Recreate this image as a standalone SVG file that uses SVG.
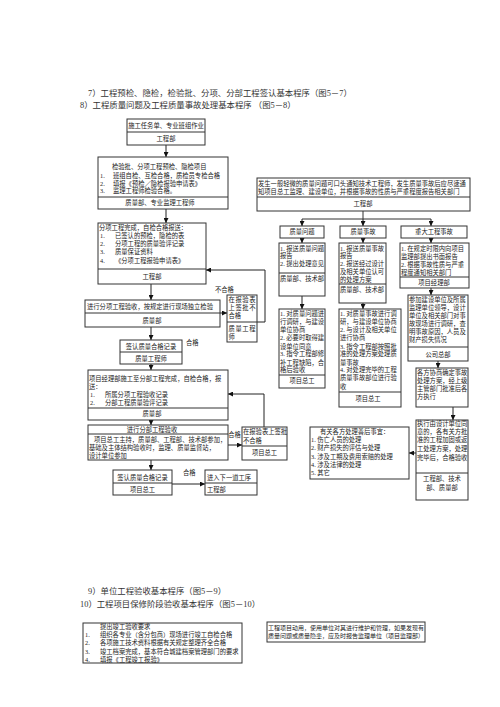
<svg xmlns="http://www.w3.org/2000/svg" width="500" height="707" viewBox="0 0 500 707">
<defs>
<marker id="ah" markerWidth="5" markerHeight="5" refX="5" refY="2.5" orient="auto" markerUnits="userSpaceOnUse">
<path d="M0,0 L5,2.5 L0,5 Z" fill="#111"/>
</marker>
<style>
.b{fill:#fff;stroke:#333;stroke-width:1}
.d{stroke:#333;stroke-width:1;fill:none}
.c{stroke:#222;stroke-width:1;fill:none;marker-end:url(#ah)}
text{font-family:"Liberation Serif","Noto Sans CJK SC",serif;fill:#222}
.t{font-size:6.3px}
.m{text-anchor:middle}
.h{font-size:8.4px;fill:#333}
.s{font-size:6px}
</style>
</defs>
<rect width="500" height="707" fill="#fff"/>

<g id="headings">
<text class="h" x="88" y="96">7）工程预检、隐检，检验批、分项、分部工程签认基本程序（图5－7）</text>
<text class="h" x="80" y="108">8）工程质量问题及工程质量事故处理基本程序  （图5－8）</text>
<text class="h" x="88" y="594">9）单位工程验收基本程序（图5－9）</text>
<text class="h" x="80" y="607">10）工程项目保修阶段验收基本程序（图5－10）</text>
</g>

<g id="connectors">
<path class="c" d="M166,145 V157"/>
<path class="c" d="M166,209 V223"/>
<path class="c" d="M151,284 V300"/>
<path class="c" d="M220,313 H227"/>
<path class="c" d="M257,322 H265 V270 H206"/>
<path class="c" d="M151,327 V340"/>
<path class="c" d="M151,364 V370"/>
<path class="c" d="M264,427 V394 H228"/>
<path class="c" d="M151,420 V425"/>
<path class="c" d="M228,445 H242"/>
<path class="c" d="M151,460 V470"/>
<path class="c" d="M172,484 H205"/>
<path class="d" d="M363,211 V219 M302,219 H431"/>
<path class="c" d="M302,219 V226"/>
<path class="c" d="M363,219 V226"/>
<path class="c" d="M431,219 V226"/>
<path class="c" d="M302,238 V243"/>
<path class="c" d="M363,238 V243"/>
<path class="c" d="M431,238 V243"/>
<path class="c" d="M302,296 V309"/>
<path class="c" d="M363,303 V309"/>
<path class="c" d="M431,288 V295"/>
<path class="c" d="M438,361 V368"/>
<path class="c" d="M453,407 V420"/>
<path class="c" d="M416,453 H409"/>
</g>

<g id="labels">
<text class="t" x="215" y="292">不合格</text>
<text class="t" x="186" y="345">合格</text>
<text class="t" x="222" y="437">不合格</text>
<text class="t" x="183" y="475">合格</text>
</g>

<g id="n1">
<rect class="b" x="127" y="119" width="78" height="26"/>
<path class="d" d="M127,132 H205"/>
<text class="t m" x="166" y="128">施工任务单、专业班组作业</text>
<text class="t m" x="166" y="141">工程部</text>
</g>

<g id="n2">
<rect class="b" x="98" y="157" width="130" height="52"/>
<path class="d" d="M98,197 H228"/>
<text class="t" x="112" y="169">检验批、分项工程预检、隐检项目</text>
<text class="t" x="100" y="178">1.</text><text class="t" x="113" y="178">班组自检、互检合格，质检员专检合格</text>
<text class="t" x="100" y="186">2.</text><text class="t" x="113" y="186">填报《预检／隐检报验申请表》</text>
<text class="t" x="100" y="193">3.</text><text class="t" x="113" y="193">监理工程师检验合格。</text>
<text class="t m" x="160" y="205">质量部、专业监理工程师</text>
</g>

<g id="n3">
<rect class="b" x="98" y="223" width="108" height="61"/>
<path class="d" d="M98,269 H206"/>
<text class="t" x="99" y="230">分项工程完成，自检合格报送：</text>
<text class="t" x="100" y="238">1.</text><text class="t" x="115" y="238">已签认的预检，隐检的表</text>
<text class="t" x="100" y="246">2.</text><text class="t" x="115" y="246">分项工程的质量验评记录</text>
<text class="t" x="100" y="254">3.</text><text class="t" x="115" y="254">质量保证资料</text>
<text class="t" x="100" y="263">4.</text><text class="t" x="115" y="263">《分项工程报验申请表》</text>
<text class="t m" x="152" y="279">工程部</text>
</g>

<g id="n4">
<rect class="b" x="85" y="300" width="135" height="27"/>
<path class="d" d="M85,313 H220"/>
<text class="t" x="87" y="309">进行分项工程验收，按规定进行现场独立检验</text>
<text class="t m" x="152" y="323">质量部</text>
</g>

<g id="n5">
<rect class="b" x="227" y="295" width="30" height="47"/>
<path class="d" d="M227,322 H257"/>
<text class="t" x="228.5" y="302" textLength="27" lengthAdjust="spacing">在报验表</text>
<text class="t" x="228.5" y="310" textLength="27" lengthAdjust="spacing">上签批不</text>
<text class="t" x="228.5" y="318">合格</text>
<text class="t" x="228.5" y="331" textLength="27" lengthAdjust="spacing">质量工程</text>
<text class="t" x="228.5" y="339">师</text>
</g>

<g id="n6">
<rect class="b" x="120" y="340" width="62" height="24"/>
<path class="d" d="M120,352 H182"/>
<text class="t m" x="151" y="349">签认质量合格记录</text>
<text class="t m" x="151" y="361">质量工程师</text>
</g>

<g id="n7">
<rect class="b" x="88" y="370" width="140" height="50"/>
<path class="d" d="M88,408 H228"/>
<text class="t" x="89" y="381">项目经理部施工至分部工程完成，自检合格，报</text>
<text class="t" x="89" y="389">送：</text>
<text class="t" x="90" y="397">1.</text><text class="t" x="105" y="397">所属分项工程验收记录</text>
<text class="t" x="90" y="405">2.</text><text class="t" x="105" y="405">分部工程质量验评记录</text>
<text class="t m" x="152" y="416">质量部</text>
</g>

<g id="n8">
<rect class="b" x="88" y="425" width="140" height="35"/>
<path class="d" d="M88,434 H228"/>
<text class="t m" x="152" y="432">进行分部工程验收</text>
<text class="t" x="94" y="442">项目总工主持，质量部、工程部、技术部参加，</text>
<text class="t" x="89" y="450">基础及主体结构验收时，监理、质量监督站，</text>
<text class="t" x="89" y="458">设计单位参加</text>
</g>

<g id="n9">
<rect class="b" x="242" y="427" width="45" height="33"/>
<path class="d" d="M242,446 H287"/>
<text class="t" x="243" y="434">在报验表上签批</text>
<text class="t" x="243" y="443">不合格</text>
<text class="t m" x="264.5" y="455">项目总工</text>
</g>

<g id="n10">
<rect class="b" x="113" y="470" width="59" height="25"/>
<path class="d" d="M113,483 H172"/>
<text class="t m" x="142.5" y="480">签认质量合格记录</text>
<text class="t m" x="142.5" y="492">项目总工</text>
</g>

<g id="n11">
<rect class="b" x="205" y="470" width="52" height="25"/>
<path class="d" d="M205,483 H257"/>
<text class="t" x="207" y="480">进入下一道工序</text>
<text class="t" x="207" y="492">工程部</text>
</g>

<g id="r1">
<rect class="b" x="257" y="178" width="213" height="33"/>
<path class="d" d="M257,197 H470"/>
<text class="t" x="258" y="186">发生一般轻微的质量问题可口头通知技术工程师，发生质量事故后应尽速通</text>
<text class="t" x="258" y="194">知项目总工监理、建设单位，并根据事故的性质与严重程度报告相关部门</text>
<text class="t m" x="363" y="206">工程部</text>
</g>

<g id="r2a">
<rect class="b" x="280" y="226" width="44" height="12"/>
<text class="t m" x="302" y="234">质量问题</text>
</g>
<g id="r2b">
<rect class="b" x="340" y="226" width="46" height="12"/>
<text class="t m" x="363" y="234">质量事故</text>
</g>
<g id="r2c">
<rect class="b" x="401" y="226" width="66" height="12"/>
<text class="t m" x="434" y="234">重大工程事故</text>
</g>

<g id="r3a">
<rect class="b" x="279" y="243" width="46" height="53"/>
<path class="d" d="M279,273 H325"/>
<text class="t" x="280" y="251">1. 报送质量问题</text>
<text class="t" x="280" y="258">报告</text>
<text class="t" x="280" y="266">2. 提出处理意见</text>
<text class="t" x="280" y="281">质量部、技术部</text>
</g>

<g id="r3b">
<rect class="b" x="339" y="243" width="47" height="60"/>
<path class="d" d="M339,284 H386"/>
<text class="t" x="340" y="251">1. 报送质量事故</text>
<text class="t" x="340" y="258">报告</text>
<text class="t" x="340" y="266">2. 报送经过设计</text>
<text class="t" x="340" y="274">及相关单位认可</text>
<text class="t" x="340" y="282">的处理方案</text>
<text class="t" x="340" y="292">质量部、技术部</text>
</g>

<g id="r3c">
<rect class="b" x="400" y="243" width="69" height="45"/>
<path class="d" d="M400,277 H469"/>
<text class="t" x="401" y="251">1. 在规定时限内向项目</text>
<text class="t" x="401" y="259">监理部提出书面报告</text>
<text class="t" x="401" y="267">2. 根据事故性质与严重</text>
<text class="t" x="401" y="275">程度通知相关部门</text>
<text class="t m" x="434" y="285">项目经理部</text>
</g>

<g id="r4a">
<rect class="b" x="279" y="309" width="46" height="79"/>
<path class="d" d="M279,375 H325"/>
<text class="t" x="280" y="316">1. 对质量问题进</text>
<text class="t" x="280" y="324">行调研，与建设</text>
<text class="t" x="280" y="332">单位协商</text>
<text class="t" x="280" y="340">2. 必要时取得建</text>
<text class="t" x="280" y="349">设单位同意</text>
<text class="t" x="280" y="356">3. 指令工程部修</text>
<text class="t" x="280" y="365">补工程缺陷，合</text>
<text class="t" x="280" y="372">格后验收</text>
<text class="t m" x="302" y="383">项目总工</text>
</g>

<g id="r4b">
<rect class="b" x="339" y="309" width="62" height="98"/>
<path class="d" d="M339,392 H401"/>
<text class="t" x="340" y="316">1. 对质量事故进行调</text>
<text class="t" x="340" y="324">研，与建设单位协商</text>
<text class="t" x="340" y="332">2. 与设计及相关单位</text>
<text class="t" x="340" y="340">进行协商</text>
<text class="t" x="340" y="349">3. 指令工程部按照批</text>
<text class="t" x="340" y="356">准的处理方案处理质</text>
<text class="t" x="340" y="365">量事故</text>
<text class="t" x="340" y="372">4. 对处理完毕的工程</text>
<text class="t" x="340" y="380">质量事故部位进行验</text>
<text class="t" x="340" y="389">收</text>
<text class="t m" x="368" y="401">项目总工</text>
</g>

<g id="r4c">
<rect class="b" x="408" y="295" width="60" height="66"/>
<path class="d" d="M408,347 H468"/>
<text class="t" x="409" y="302">参加建设单位及所属</text>
<text class="t" x="409" y="310">监理单位领导，设计</text>
<text class="t" x="409" y="318">单位及相关部门对事</text>
<text class="t" x="409" y="326">故现场进行调研，查</text>
<text class="t" x="409" y="334">明事故原因，人员及</text>
<text class="t" x="409" y="342">财产损失情况</text>
<text class="t m" x="438" y="357">公司总部</text>
</g>

<g id="r5c">
<rect class="b" x="416" y="368" width="52" height="39"/>
<text class="t" x="417" y="375">各方协商确定事故</text>
<text class="t" x="417" y="383">处理方案，经上级</text>
<text class="t" x="417" y="391">主管部门批准后各</text>
<text class="t" x="417" y="399">方执行</text>
</g>

<g id="r6c">
<rect class="b" x="416" y="420" width="52" height="80"/>
<path class="d" d="M416,473 H468"/>
<text class="t" x="417" y="426">执行由设计单位同</text>
<text class="t" x="417" y="434">意的，各有关方批</text>
<text class="t" x="417" y="442">准的工程加固或返</text>
<text class="t" x="417" y="451">工处理方案，处理</text>
<text class="t" x="417" y="460">完毕后，合格验收</text>
<text class="t m" x="442" y="481">工程部、技术</text>
<text class="t m" x="442" y="490">部、质量部</text>
</g>

<g id="r7">
<rect class="b" x="310" y="427" width="99" height="52"/>
<text class="t" x="320" y="434">有关各方处理善后事宜：</text>
<text class="t" x="311" y="442">1. 伤亡人员的处理</text>
<text class="t" x="311" y="450">2. 财产损失的评估与处理</text>
<text class="t" x="311" y="459">3. 涉及工期及费用索赔的处理</text>
<text class="t" x="311" y="467">4. 涉及法律的处理</text>
<text class="t" x="311" y="475">5. 其它</text>
</g>

<g id="b1">
<rect class="b" x="83" y="623" width="159" height="40"/>
<text class="t" x="100" y="629">提出竣工验收要求</text>
<text class="t" x="85" y="637">1.</text><text class="t" x="100" y="637">组织各专业（含分包商）现场进行竣工自检合格</text>
<text class="t" x="85" y="645">2.</text><text class="t" x="100" y="645">各项施工技术资料根据有关规定整理齐全合格</text>
<text class="t" x="85" y="654">3.</text><text class="t" x="100" y="654">竣工档案完成，基本符合城建档案管理部门的要求</text>
<text class="t" x="85" y="662">4.</text><text class="t" x="100" y="662">填报《工程竣工报验》</text>
</g>

<g id="b2">
<rect class="b" x="267" y="622" width="158" height="20"/>
<text class="s" x="268" y="629.5">工程项目动用，使用单位对其进行维护和管理，如果发现有</text>
<text class="s" x="268" y="637.5">质量问题或质量隐患，应及时报告监理单位（项目监理部）</text>
</g>
</svg>
